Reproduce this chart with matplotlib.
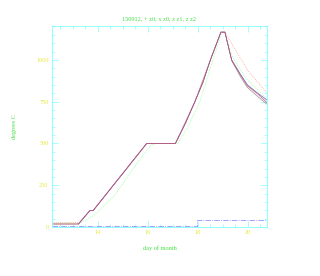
import numpy as np
import matplotlib
matplotlib.use("Agg")
import matplotlib.pyplot as plt
from matplotlib.ticker import MultipleLocator

plt.rcParams['font.family'] = ['Liberation Serif', 'DejaVu Serif']

# z0 (+), red
day_z0 = [12.16, 13.22, 13.68, 13.81, 15.95, 17.1, 17.5, 17.88, 18.2, 18.5, 18.92, 19.08, 19.35, 19.7, 19.98, 20.4, 20.76]
temp_z0 = [18, 18, 99, 99, 500, 500, 620, 750, 865, 1000, 1166, 1166, 1000, 910, 845, 795, 745]

# z0 (x), blue
day_x0 = [13.22, 13.68, 13.81, 15.95, 17.1, 17.5, 17.88, 18.2, 18.5, 18.92, 19.08, 19.35, 19.7, 19.98, 20.4, 20.76]
temp_x0 = [18, 99, 99, 500, 500, 620, 750, 865, 1000, 1166, 1166, 1000, 915, 850, 800, 760]

# z1, green dotted
day_z1 = [12.16, 13.28, 13.88, 14.68, 15.28, 15.75, 16.15, 16.35, 17.2, 17.6, 18.08, 18.6, 18.95, 19.08, 19.35, 19.7, 20.0, 20.76]
temp_z1 = [25, 25, 73, 193, 321, 422, 492, 500, 500, 600, 750, 1000, 1166, 1166, 1030, 940, 875, 770]

# z2, orange dotted
day_z2 = [12.16, 13.24, 13.68, 13.81, 15.95, 17.1, 17.88, 18.5, 18.92, 19.08, 19.3, 19.98, 20.4, 20.76]
temp_z2 = [25, 25, 99, 99, 500, 500, 750, 1000, 1166, 1166, 1110, 940, 865, 805]

# gray reference
day_g = [12.16, 13.22, 13.68, 13.81, 15.95, 17.1, 17.88, 18.5, 18.92, 19.08, 19.35, 19.7, 19.98, 20.4, 20.76]
temp_g = [18, 18, 99, 99, 500, 500, 750, 1000, 1166, 1166, 995, 900, 835, 780, 735]

# bottom step, blue dash-dot
day_step = [12.16, 17.96, 17.96, 20.76]
temp_step = [4, 4, 42, 42]

fig = plt.figure(figsize=(3.2, 2.76), dpi=100)
ax = fig.add_axes([0.1625, 0.1775, 0.6715, 0.7285])

ax.plot(day_g, temp_g, color='#909090', lw=0.5)
ax.plot(day_z1, temp_z1, color='#90ff90', lw=0.6, ls=(0, (1, 1.5)))
ax.plot(day_z2, temp_z2, color='#ffa090', lw=0.6, ls=(0, (1, 1.5)))
ax.plot(day_x0, temp_x0, color='#6060e0', lw=0.5)
ax.plot(day_z0, temp_z0, color='#d05060', lw=0.45)
ax.plot(day_step, temp_step, color='#9090ff', lw=0.6, ls='-.', clip_on=False)

ax.set_xlim(12.16, 20.76)
ax.set_ylim(0, 1203)
ax.xaxis.set_major_locator(MultipleLocator(2))
ax.xaxis.set_minor_locator(MultipleLocator(0.5))
ax.yaxis.set_major_locator(MultipleLocator(250))
ax.yaxis.set_minor_locator(MultipleLocator(50))

for s in ax.spines.values():
    s.set_color('#80ffff')
    s.set_linewidth(0.6)
ax.tick_params(which='both', direction='in', top=True, right=True,
               color='#80ffff', width=0.5, labelcolor='#e8e840', labelsize=4.5)
ax.tick_params(which='major', length=4, pad=2.5)
ax.tick_params(which='minor', length=2)

ax.set_title('150912, + z0, x z0, z z1, z z2', color='#40e040', fontsize=4.5, pad=4)
ax.set_xlabel('day of month', color='#40e040', fontsize=4.5, labelpad=7)
ax.set_ylabel('degrees C', color='#40e040', fontsize=4.5, labelpad=14)

fig.savefig('out.png', dpi=100)
